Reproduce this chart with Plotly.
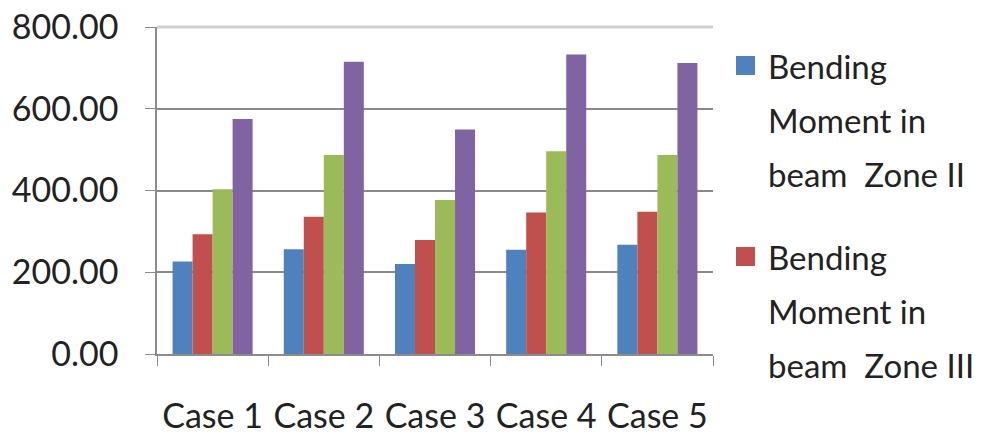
import plotly.graph_objects as go

# Bending moment results per load case
cases = ["Case 1", "Case 2", "Case 3", "Case 4", "Case 5"]
zone_ii = [226, 256, 220, 255, 267]
zone_iii = [293, 336, 279, 346, 348]
zone_iv = [403, 487, 377, 496, 487]
zone_v = [575, 715, 549, 733, 712]

series_names = [
    "Bending Moment in beam  Zone II",
    "Bending Moment in beam  Zone III",
    "Bending Moment in beam  Zone IV",
    "Bending Moment in beam  Zone V",
]
series_values = [zone_ii, zone_iii, zone_iv, zone_v]
series_colors = ["#4F81BD", "#C0504D", "#9BBB59", "#8064A2"]
# only the first two series fit in the legend box
legend_lines = [
    ["Bending", "Moment in", "beam\u00a0 Zone II"],
    ["Bending", "Moment in", "beam\u00a0 Zone III"],
]

y_ticks = [0, 200, 400, 600, 800]
y_max = 800

FONT = "Lato, 'Open Sans', sans-serif"
TEXT = "#222222"

W, H = 992, 445
L, R, T, B = 157, 279, 27, 91
PW, PH = W - L - R, H - T - B


def px_to_paper_x(px):
    return (px - L) / PW


def px_to_paper_y(py):
    return (H - B - py) / PH


fig = go.Figure()
for name, vals, col in zip(series_names, series_values, series_colors):
    fig.add_trace(go.Bar(
        x=cases, y=vals, name=name, marker=dict(color=col, line=dict(width=0)),
        showlegend=False,
    ))

# light top border of the plot area at the axis maximum
shapes = [dict(
    type="line", xref="paper", yref="paper", x0=0, x1=1, y0=1, y1=1,
    line=dict(color="#cfcfcf", width=3), layer="above",
)]
annotations = []

# hand-built legend: colour square plus one annotation per text line
entry_tops = [66, 257]
line_step = 54
for i, lines in enumerate(legend_lines):
    yc = entry_tops[i]
    shapes.append(dict(
        type="rect", xref="paper", yref="paper",
        x0=px_to_paper_x(736), x1=px_to_paper_x(755),
        y0=px_to_paper_y(yc - 10), y1=px_to_paper_y(yc + 9),
        fillcolor=series_colors[i], line=dict(width=0),
    ))
    for j, txt in enumerate(lines):
        annotations.append(dict(
            text=txt, xref="paper", yref="paper",
            x=px_to_paper_x(766), y=px_to_paper_y(yc + j * line_step),
            xanchor="left", yanchor="middle", showarrow=False,
            font=dict(family=FONT, size=33, color=TEXT),
        ))

fig.update_layout(
    width=W, height=H,
    margin=dict(l=L, r=R, t=T, b=B, pad=0, autoexpand=False),
    paper_bgcolor="white", plot_bgcolor="white",
    barmode="group", bargap=0.28, bargroupgap=0,
    shapes=shapes, annotations=annotations,
    showlegend=False,
    xaxis=dict(
        showgrid=False, showline=True, linecolor="#8c8c8c", linewidth=1.5,
        ticks="outside", tickson="boundaries", ticklen=10, tickcolor="#8c8c8c",
        tickfont=dict(family=FONT, size=34, color=TEXT), tickangle=0,
        ticklabelstandoff=31, fixedrange=True, automargin=False,
    ),
    yaxis=dict(
        range=[0, y_max], tickvals=y_ticks, tickformat=".2f",
        showgrid=True, gridcolor="#8a8a8a", gridwidth=1.5,
        showline=True, linecolor="#8c8c8c", linewidth=1.5,
        ticks="outside", ticklen=10, tickcolor="#8c8c8c",
        tickfont=dict(family=FONT, size=34, color=TEXT),
        ticklabelstandoff=20, zeroline=False, fixedrange=True, automargin=False,
    ),
)

fig.write_html("out.html")
